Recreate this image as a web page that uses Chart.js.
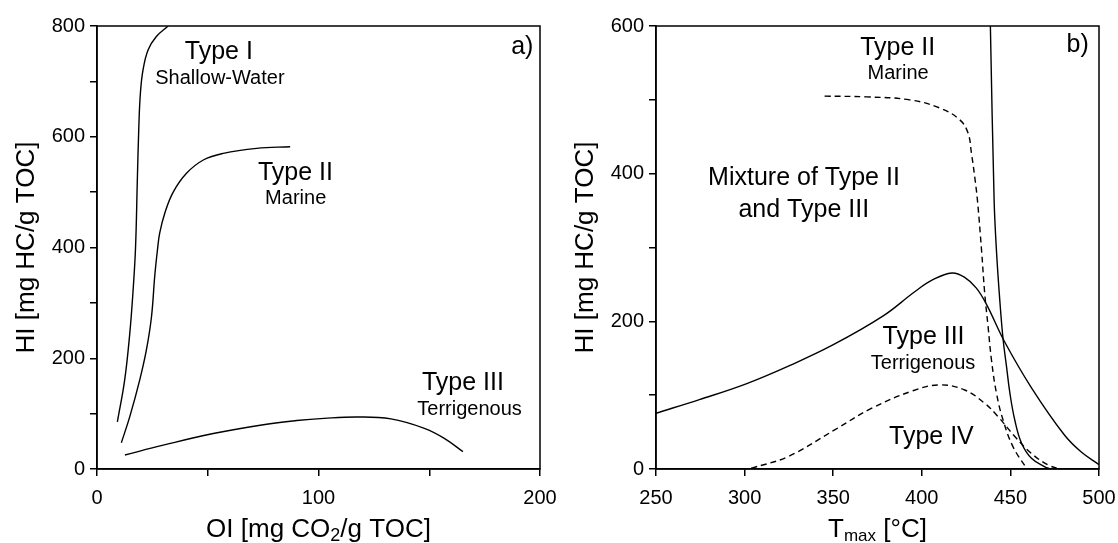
<!DOCTYPE html>
<html>
<head>
<meta charset="utf-8">
<script src="https://cdn.jsdelivr.net/npm/chart.js@4.4.0/dist/chart.umd.min.js"></script>
<style>
  html, body { margin: 0; padding: 0; background: #fff; }
  #wrap { position: relative; width: 1118px; height: 543px; }
  .panel { position: absolute; top: 0; width: 559px; height: 543px; }
</style>
</head>
<body>
<div id="wrap">
  <div class="panel" style="left:0"><canvas id="chart-a"></canvas></div>
  <div class="panel" style="left:559px"><canvas id="chart-b"></canvas></div>
</div>
<script>
// --- panel a) HI vs OI ---
const typeI_oi  = [9.2, 12.5, 14.8, 16.3, 17.4, 18.2, 18.9, 19.6, 20.8, 23.1, 26.8, 32.1];
const typeI_hi  = [85, 161, 245, 323, 400, 520, 620, 679, 721, 757, 781, 800];
const typeII_oi = [11, 14.8, 19.3, 22.3, 24.6, 26.1, 27.3, 28.3, 30.6, 34.4, 40.4, 48, 57, 72.1, 87.2];
const typeII_hi = [47.5, 94.5, 161, 215, 275, 350, 396, 426, 462, 500, 534, 558, 570, 579, 582];
const typeIII_oi = [12.6, 29.9, 52.5, 75.1, 90.2, 102.5, 117.6, 132.7, 147.8, 156.8, 165.2];
const typeIII_hi = [25.3, 43, 64, 80, 87.5, 91.5, 94, 90.5, 73.5, 55.4, 31.3];

// --- panel b) HI vs Tmax ---
const typeIIIb_t  = [250, 274.5, 300.5, 324.4, 349.8, 378, 396, 406, 417, 424.2, 430.8, 436.5, 446.8, 461.9, 480.5, 490, 500];
const typeIIIb_hi = [75.5, 94, 115, 139, 168, 207, 240, 256, 265.5, 259.5, 245, 223, 172, 110, 46, 23, 6];
const typeIIb_t   = [345.1, 368.7, 393.1, 410.1, 421.4, 426.1, 428, 429.9, 431.4, 433.7, 435.5, 437.4, 439.3, 442.1, 445.9, 451.5, 459.1];
const typeIIb_hi  = [505, 504, 500, 489, 473, 455, 428, 395, 364, 297, 238, 193, 148, 103, 66, 30, 1];
const typeIIsolid_t  = [438.7, 440.8, 442.1, 444, 445.9, 447.8, 449.7, 452.5, 456.3, 461.9, 469.4, 472.6];
const typeIIsolid_hi = [600, 365, 297, 229, 175, 139, 103, 66, 35, 14.5, 3, 0];
const typeIV_t  = [303.7, 324.4, 350.8, 371.5, 395, 410.1, 424.2, 435.5, 443, 452.5, 461.9, 471.3, 477.8];
const typeIV_hi = [1, 16.7, 52.9, 82, 106, 113.9, 107, 89, 71, 44, 21, 5.4, 0];

const FONT = "'Liberation Sans', Arial, Helvetica, sans-serif";
Chart.defaults.font.family = FONT;
Chart.defaults.color = '#000';

function pts(xs, ys) {
  return xs.map((x, i) => ({ x: x, y: ys[i] }));
}

function curve(xs, ys, dashed) {
  return {
    data: pts(xs, ys),
    showLine: true,
    borderColor: '#000',
    borderWidth: 1.4,
    borderDash: dashed ? [6, 4] : [],
    pointRadius: 0,
    tension: 0.4,
    fill: false
  };
}

// frame box, in-plot labels and x title (with subscript)
function decor(labels, titleParts) {
  return {
    id: 'decor',
    afterDraw(chart) {
      const ctx = chart.ctx;
      const a = chart.chartArea;
      const xs = chart.scales.x, ys = chart.scales.y;
      ctx.save();
      ctx.strokeStyle = '#000';
      ctx.lineWidth = 1.5;
      ctx.strokeRect(a.left, a.top, a.right - a.left, a.bottom - a.top);

      ctx.fillStyle = '#000';
      ctx.textAlign = 'center';
      ctx.textBaseline = 'middle';
      labels.forEach(l => {
        ctx.font = l.size + 'px ' + FONT;
        ctx.fillText(l.text, xs.getPixelForValue(l.x), ys.getPixelForValue(l.y));
      });

      // x axis title
      ctx.textAlign = 'left';
      ctx.textBaseline = 'alphabetic';
      let w = 0;
      titleParts.forEach(p => {
        ctx.font = p.size + 'px ' + FONT;
        w += ctx.measureText(p.t).width;
      });
      let x = (a.left + a.right) / 2 - w / 2;
      const base = 537;
      titleParts.forEach(p => {
        ctx.font = p.size + 'px ' + FONT;
        ctx.fillText(p.t, x, base + (p.dy || 0));
        x += ctx.measureText(p.t).width;
      });
      ctx.restore();
    }
  };
}

function makeChart(id, datasets, xr, yr, yTitle, labels, titleParts) {
  return new Chart(document.getElementById(id), {
    type: 'scatter',
    data: { datasets: datasets },
    options: {
      responsive: true,
      maintainAspectRatio: false,
      animation: false,
      layout: { padding: { top: 26, right: 19, left: 0, bottom: 0 } },
      plugins: { legend: { display: false }, tooltip: { enabled: false } },
      scales: {
        x: {
          type: 'linear', min: xr.min, max: xr.max,
          afterFit: s => { s.height = 74; s.paddingLeft = 0; s.paddingRight = 0; },
          border: { color: '#000', width: 1.5 },
          grid: { drawOnChartArea: false, drawTicks: true, tickLength: 7, color: '#000', lineWidth: 1.5 },
          ticks: {
            stepSize: xr.step, padding: 10, font: { size: 20 }, color: '#000',
            callback: v => (v % xr.every === 0 ? v : '')
          }
        },
        y: {
          type: 'linear', min: yr.min, max: yr.max,
          afterFit: s => { s.width = 97; s.paddingTop = 0; s.paddingBottom = 0; },
          border: { color: '#000', width: 1.5 },
          grid: { drawOnChartArea: false, drawTicks: true, tickLength: 7, color: '#000', lineWidth: 1.5 },
          ticks: {
            stepSize: yr.step, padding: 5, font: { size: 20 }, color: '#000',
            callback: v => (v % yr.every === 0 ? v : '')
          },
          title: { display: true, text: yTitle, font: { size: 26 }, color: '#000', padding: { top: 11, bottom: 0 } }
        }
      }
    },
    plugins: [decor(labels, titleParts)]
  });
}

makeChart('chart-a',
  [curve(typeI_oi, typeI_hi), curve(typeII_oi, typeII_hi), curve(typeIII_oi, typeIII_hi)],
  { min: 0, max: 200, step: 50, every: 100 },
  { min: 0, max: 800, step: 100, every: 200 },
  'HI [mg HC/g TOC]',
  [
    { text: 'Type I', x: 55, y: 753, size: 25 },
    { text: 'Shallow-Water', x: 55.5, y: 705, size: 20 },
    { text: 'Type II', x: 89.6, y: 535, size: 25 },
    { text: 'Marine', x: 89.7, y: 488, size: 20 },
    { text: 'Type III', x: 165.2, y: 155, size: 25 },
    { text: 'Terrigenous', x: 168.2, y: 106.6, size: 20 },
    { text: 'a)', x: 192, y: 762.5, size: 25 }
  ],
  [{ t: 'OI [mg CO', size: 26 }, { t: '2', size: 18, dy: 4 }, { t: '/g TOC]', size: 26 }]
);

makeChart('chart-b',
  [curve(typeIIIb_t, typeIIIb_hi), curve(typeIIb_t, typeIIb_hi, true),
   curve(typeIIsolid_t, typeIIsolid_hi), curve(typeIV_t, typeIV_hi, true)],
  { min: 250, max: 500, step: 50, every: 50 },
  { min: 0, max: 600, step: 100, every: 200 },
  'HI [mg HC/g TOC]',
  [
    { text: 'Type II', x: 386.4, y: 570.6, size: 25 },
    { text: 'Marine', x: 386.6, y: 535.4, size: 20 },
    { text: 'b)', x: 488, y: 574.7, size: 25 },
    { text: 'Mixture of Type II', x: 333.5, y: 394.4, size: 25 },
    { text: 'and Type III', x: 333.4, y: 351, size: 25 },
    { text: 'Type III', x: 401, y: 178.5, size: 25 },
    { text: 'Terrigenous', x: 400.7, y: 142.3, size: 20 },
    { text: 'Type IV', x: 405.4, y: 43.8, size: 25 }
  ],
  [{ t: 'T', size: 26 }, { t: 'max', size: 17, dy: 4 }, { t: ' [°C]', size: 26 }]
);
</script>
</body>
</html>
